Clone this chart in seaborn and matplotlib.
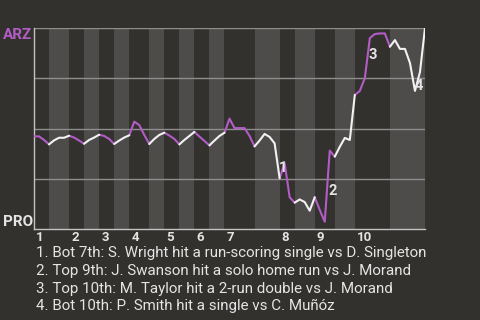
import numpy as np
import pandas as pd
import matplotlib
matplotlib.use("Agg")
import matplotlib.pyplot as plt
import seaborn as sns

# ---------------- data ----------------
away_team = "ARZ"
home_team = "PRO"

# ARZ win probability after each play
wp = [0.461, 0.461, 0.443, 0.421, 0.441, 0.454, 0.454, 0.464, 0.455, 0.440,
      0.424, 0.443, 0.455, 0.469, 0.463, 0.448, 0.423, 0.440, 0.455, 0.466,
      0.534, 0.517, 0.468, 0.423, 0.448, 0.468, 0.479, 0.465, 0.448, 0.421,
      0.443, 0.463, 0.483, 0.460, 0.438, 0.416, 0.440, 0.463, 0.479, 0.549,
      0.502, 0.502, 0.502, 0.463, 0.411, 0.440, 0.473, 0.458, 0.426, 0.252,
      0.328, 0.158, 0.131, 0.147, 0.134, 0.091, 0.158, 0.095, 0.036, 0.390,
      0.360, 0.409, 0.453, 0.443, 0.667, 0.687, 0.751, 0.950, 0.970, 0.973,
      0.973, 0.907, 0.940, 0.896, 0.896, 0.826, 0.687, 0.781, 1.000]

# play index where each half-inning starts (top 1st, bot 1st, ...), plus the end
half_breaks = [0, 3, 7, 10, 13, 16, 19, 23, 26, 29, 32, 35, 38, 44, 49, 52,
               56, 60, 64, 71, 78]
innings = ["1", "2", "3", "4", "5", "6", "7", "8", "9", "10"]

event_index = [49, 59, 67, 76]
event_numbers = ["1", "2", "3", "4"]
event_texts = [
    "1. Bot 7th: S. Wright hit a run-scoring single vs D. Singleton",
    "2. Top 9th: J. Swanson hit a solo home run vs J. Morand",
    "3. Top 10th: M. Taylor hit a 2-run double vs J. Morand",
    "4. Bot 10th: P. Smith hit a single vs C. Muñóz",
]

# ---------------- style ----------------
BG = "#33312e"
LIGHT = "#4d4c4a"
GRID = "#8e8e8e"
AXIS = "#c4c4c4"
PURPLE = "#b15dc5"
WHITE = "#f2f2f2"
TEXT = "#e4e4e4"

sns.set_theme(style="dark")
plt.rcParams['font.family'] = ['Roboto', 'DejaVu Sans']

W, H = 480, 320
fig = plt.figure(figsize=(4.8, 3.2), dpi=100, facecolor=BG)
x0, x1, y0, y1 = 34, 425, 28, 229
ax = fig.add_axes([x0 / W, 1 - y1 / H, (x1 - x0) / W, (y1 - y0) / H])
ax.set_facecolor(BG)

# half-inning bands (bottom halves lighter)
for k in range(1, len(half_breaks) - 1, 2):
    ax.axvspan(half_breaks[k], half_breaks[k + 1], color=LIGHT, lw=0, zorder=0)

for yv in [0.25, 0.5, 0.75, 1.0]:
    ax.axhline(yv, color=GRID, lw=1.0, zorder=1)

rows = []
for k in range(len(half_breaks) - 1):
    team = away_team if k % 2 == 0 else home_team
    for i in range(half_breaks[k], half_breaks[k + 1] + 1):
        rows.append(dict(play=i, wp=wp[i], seg=k, team=team))
df = pd.DataFrame(rows)

sns.lineplot(data=df, x="play", y="wp", hue="team", units="seg",
             estimator=None, palette={away_team: PURPLE, home_team: WHITE},
             lw=1.5, legend=False, ax=ax, zorder=3)

ax.set_xlim(half_breaks[0], half_breaks[-1])
ax.set_ylim(0, 1)
ax.set_xticks([])
ax.set_yticks([])
ax.set_xlabel("")
ax.set_ylabel("")
ax.grid(False)
for side in ["top", "right"]:
    ax.spines[side].set_visible(False)
for side in ["left", "bottom"]:
    ax.spines[side].set_visible(True)
    ax.spines[side].set_color(AXIS)
    ax.spines[side].set_linewidth(1.0)

# inning labels at start of each top half
for n, lab in enumerate(innings):
    ax.annotate(lab, xy=(half_breaks[2 * n], 0), xycoords=("data", "axes fraction"),
                xytext=(1.5, -1.5), textcoords="offset points",
                ha="left", va="top", fontsize=9.5, fontweight="bold", color=TEXT)

# event markers (placed beside the midpoint of the swing)
label_offsets = [(4.2, -5.1), (4.1, -3.8), (4.0, 2.2), (4.7, -6.8)]
for idx, num, off in zip(event_index, event_numbers, label_offsets):
    xm = idx - 0.5
    ym = (wp[idx - 1] + wp[idx]) / 2
    ax.annotate(num, xy=(xm, ym), xytext=off, textcoords="offset points",
                ha="center", va="center", fontsize=10.5, fontweight="bold",
                color=TEXT, zorder=5)

# team labels
fig.text(2.5 / W, 1 - 39 / H, away_team, ha="left", va="baseline",
         fontsize=11, fontweight="bold", color=PURPLE)
fig.text(2.5 / W, 1 - 225.5 / H, home_team, ha="left", va="baseline",
         fontsize=11, fontweight="bold", color=TEXT)

# event descriptions
for j, t in enumerate(event_texts):
    fig.text(36 / W, 1 - (257.5 + 17.6 * j) / H, t, ha="left", va="baseline",
             fontsize=10.9, color=TEXT)

fig.savefig("out.png", dpi=100, facecolor=BG)
